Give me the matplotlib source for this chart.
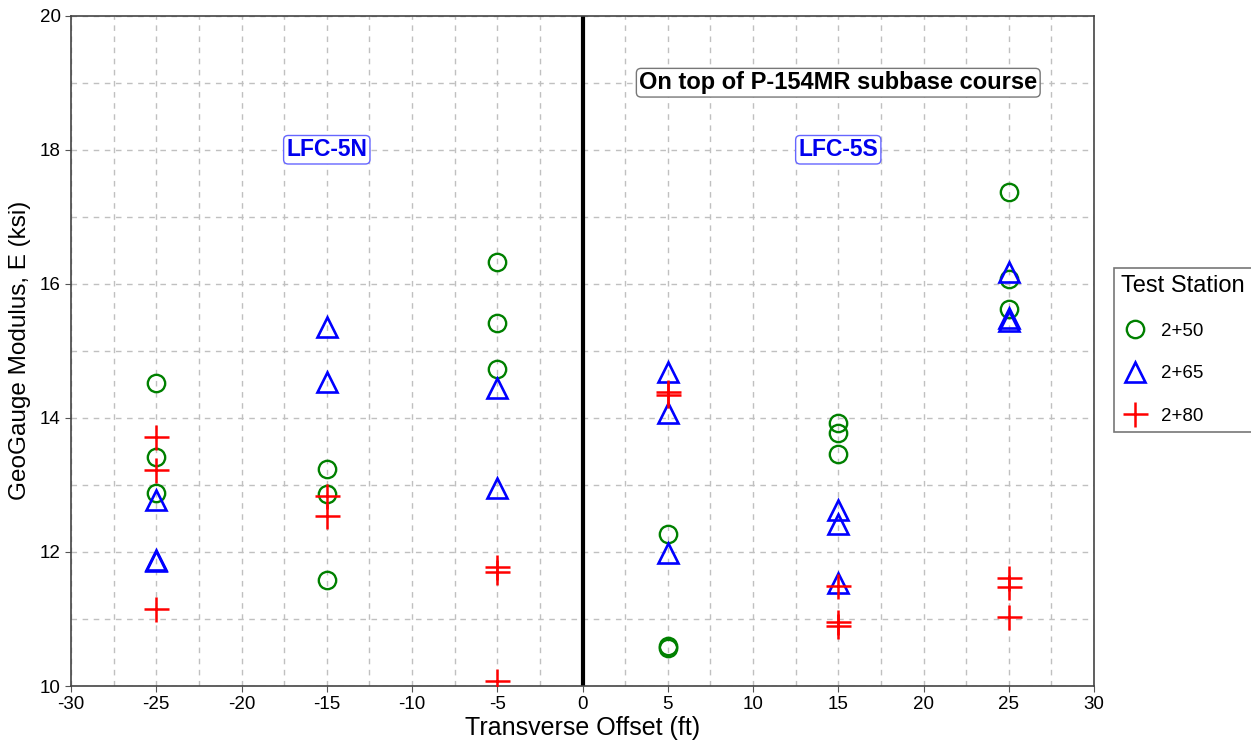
import matplotlib.pyplot as plt

plt.rcParams['font.family'] = ['Liberation Sans', 'DejaVu Sans']
plt.rcParams['axes.unicode_minus'] = False

# GeoGauge modulus (ksi) by transverse offset (ft), one list per test station
offset_250 = [-25, -25, -25, -15, -15, -15, -5, -5, -5, 5, 5, 5, 15, 15, 15, 25, 25, 25]
modulus_250 = [14.52, 13.42, 12.88, 13.23, 12.86, 11.58, 16.32, 15.42, 14.73,
               12.27, 10.60, 10.57, 13.92, 13.77, 13.46, 17.37, 16.07, 15.63]

offset_265 = [-25, -25, -25, -15, -15, -5, -5, 5, 5, 5, 15, 15, 15, 25, 25, 25]
modulus_265 = [12.77, 11.88, 11.86, 15.36, 14.53, 14.44, 12.95,
               14.69, 14.07, 11.98, 12.63, 12.42, 11.53, 16.17, 15.49, 15.44]

offset_280 = [-25, -25, -25, -15, -15, -5, -5, -5, 5, 5, 15, 15, 15, 25, 25, 25]
modulus_280 = [13.71, 13.22, 11.15, 12.84, 12.53, 11.77, 11.70, 10.07,
               14.39, 14.34, 11.49, 10.96, 10.90, 11.61, 11.47, 11.03]

fig = plt.figure(figsize=(12.51, 7.43), dpi=100)
ax = fig.add_axes([0.0568, 0.0767, 0.8177, 0.9022])

ax.plot(offset_250, modulus_250, 'o', ls='none', ms=12.5, mfc='none',
        mec='#008000', mew=1.7, label='2+50', zorder=3)
ax.plot(offset_265, modulus_265, '^', ls='none', ms=14.5, mfc='none',
        mec='#0000ff', mew=1.9, label='2+65', zorder=3)
ax.plot(offset_280, modulus_280, '+', ls='none', ms=18, mec='#ff0000',
        mew=1.8, label='2+80', zorder=3)

ax.axvline(0, color='black', lw=3, zorder=2)

ax.set_xlim(-30, 30)
ax.set_ylim(10, 20)
ax.set_xticks(range(-30, 31, 5))
ax.set_yticks(range(10, 21, 2))
ax.set_xticks([x + 2.5 for x in range(-30, 30, 5)], minor=True)
ax.set_yticks(range(11, 20, 2), minor=True)
ax.tick_params(which='major', labelsize=13.5, direction='out', length=4,
               color='#555555')
ax.tick_params(which='minor', length=0)
grid_style = dict(color='#c0c0c0', ls=(0, (4, 4)), lw=1)
ax.grid(which='both', axis='both', **grid_style)
ax.set_axisbelow(True)
for sp in ax.spines.values():
    sp.set_color('#444444')
    sp.set_linewidth(1.2)

ax.set_xlabel('Transverse Offset (ft)', fontsize=18, labelpad=2)
ax.set_ylabel('GeoGauge Modulus, E (ksi)', fontsize=17.5, labelpad=6)

box_blue = dict(boxstyle='round,pad=0.12,rounding_size=0.2', fc='white',
                ec='#6666ff', lw=1)
ax.text(-15, 18, 'LFC-5N', color='#0000ee', fontsize=16.5, fontweight='bold',
        ha='center', va='center', bbox=box_blue, zorder=4)
ax.text(15, 18, 'LFC-5S', color='#0000ee', fontsize=16.5, fontweight='bold',
        ha='center', va='center', bbox=box_blue, zorder=4)
ax.text(15, 19, 'On top of P-154MR subbase course', color='black',
        fontsize=17, fontweight='bold', ha='center', va='center', zorder=4,
        bbox=dict(boxstyle='round,pad=0.12,rounding_size=0.2', fc='white',
                  ec='#777777', lw=1))

leg = ax.legend(title='Test Station', loc='upper left',
                bbox_to_anchor=(1.0195, 0.624), fontsize=13.5, title_fontsize=17,
                frameon=True, fancybox=False, edgecolor='#555555',
                labelspacing=1.35, handletextpad=0.7, handlelength=1.4,
                borderaxespad=0, borderpad=0.4)
leg.get_frame().set_linewidth(1.2)
leg._legend_box.align = 'left'

fig.savefig('out.png', dpi=100)
